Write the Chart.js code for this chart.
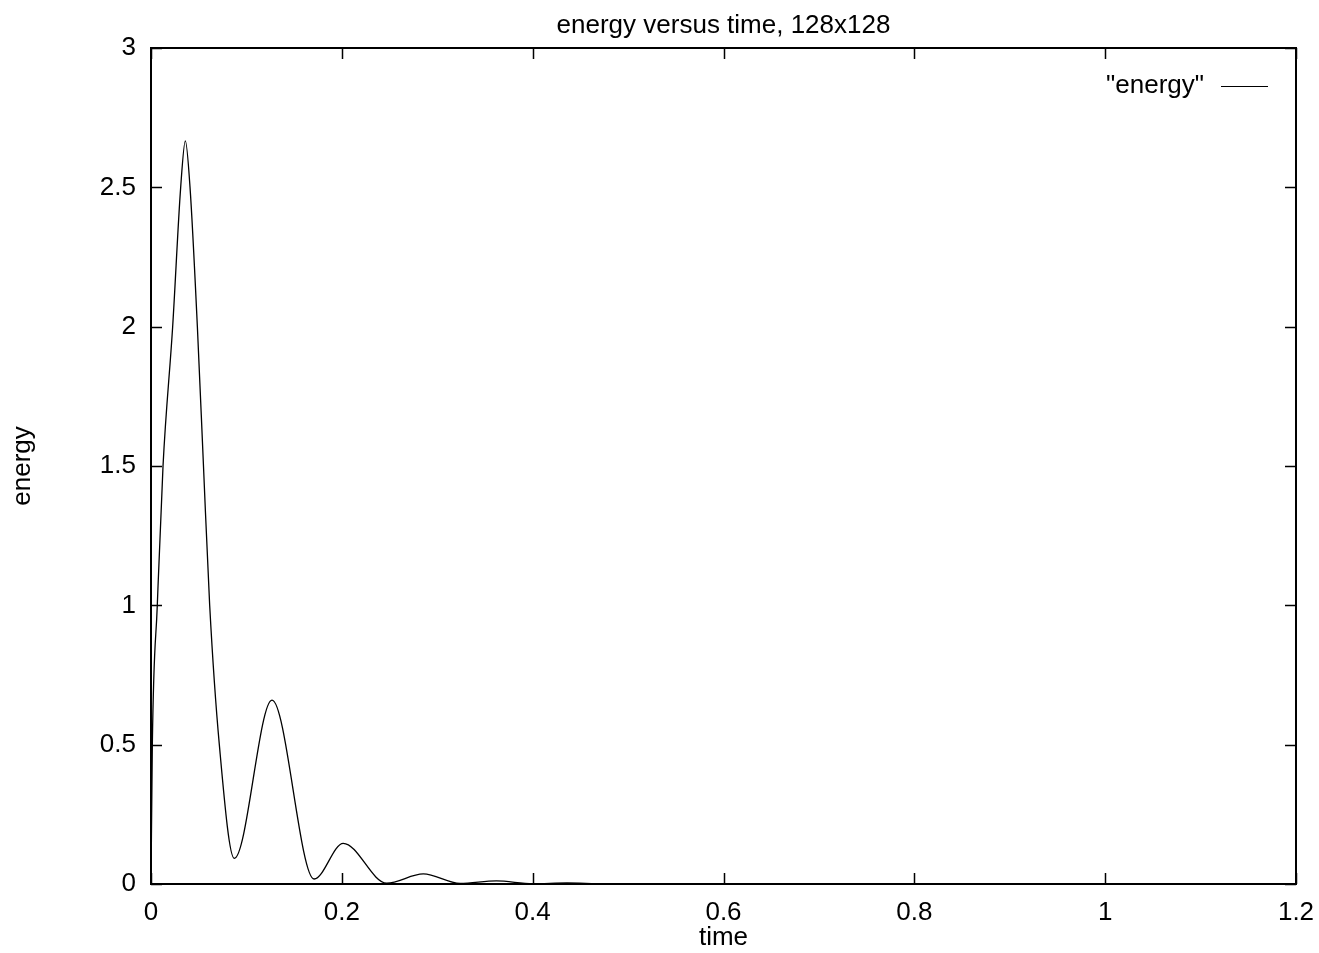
<!DOCTYPE html>
<html>
<head>
<meta charset="utf-8">
<script src="https://cdn.jsdelivr.net/npm/chart.js@4"></script>
<style>
  html, body { margin: 0; padding: 0; background: #fff; }
  #wrap { width: 1319px; height: 953px; position: relative; }
</style>
</head>
<body>
<div id="wrap"><canvas id="c" width="1319" height="953"></canvas></div>
<script>
// ---- data ----
const timeValues = [0, 0.0014, 0.0066, 0.0126, 0.0227, 0.0311, 0.036, 0.0409, 0.0486, 0.055, 0.0615, 0.0716, 0.0873, 0.1268, 0.171, 0.2015, 0.247, 0.2854, 0.324, 0.362, 0.40, 0.436, 0.475, 0.5];
const energyValues = [0, 0.5, 1.0, 1.5, 2.0, 2.5, 2.667, 2.5, 2.0, 1.5, 1.0, 0.5, 0.092, 0.66, 0.018, 0.146, 0.003, 0.036, 0.002, 0.011, 0.001, 0.004, 0.0005, 0.001];
const xTickValues = [0, 0.2, 0.4, 0.6, 0.8, 1, 1.2];
const yTickValues = [0, 0.5, 1, 1.5, 2, 2.5, 3];
const seriesLabel = '"energy"';
const chartTitle = 'energy versus time, 128x128';
const xTitle = 'time';
const yTitle = 'energy';

const FONT = '"Liberation Sans", Arial, Helvetica, sans-serif';
const FS = 26;

const points = timeValues.map((t, i) => ({ x: t, y: energyValues[i] }));

const gnuplotDecor = {
  id: 'gnuplotDecor',
  afterDatasetsDraw(chart) {
    const ctx = chart.ctx;
    const a = chart.chartArea;
    const xs = chart.scales.x, ys = chart.scales.y;
    ctx.save();
    ctx.strokeStyle = '#000';
    ctx.lineWidth = 1.5;
    const TL = 11;
    ctx.beginPath();
    xTickValues.forEach(v => {
      const px = Math.round(xs.getPixelForValue(v)) + 0.5;
      ctx.moveTo(px, a.bottom); ctx.lineTo(px, a.bottom - TL);
      ctx.moveTo(px, a.top); ctx.lineTo(px, a.top + TL);
    });
    yTickValues.forEach(v => {
      const py = Math.round(ys.getPixelForValue(v)) + 0.5;
      ctx.moveTo(a.left, py); ctx.lineTo(a.left + TL, py);
      ctx.moveTo(a.right, py); ctx.lineTo(a.right - TL, py);
    });
    ctx.stroke();
    ctx.lineWidth = 2;
    ctx.strokeRect(a.left, a.top, a.right - a.left, a.bottom - a.top);
    ctx.fillStyle = '#000';
    ctx.font = FS + 'px ' + FONT;
    ctx.textAlign = 'center';
    ctx.textBaseline = 'alphabetic';
    ctx.fillText(chartTitle, (a.left + a.right) / 2, 33);
    ctx.textAlign = 'right';
    ctx.fillText(seriesLabel, 1204, 93);
    ctx.lineWidth = 1.2;
    ctx.beginPath();
    ctx.moveTo(1221, 86.5); ctx.lineTo(1268, 86.5);
    ctx.stroke();
    ctx.restore();
  }
};

new Chart(document.getElementById('c'), {
  type: 'line',
  data: {
    datasets: [{
      label: seriesLabel,
      data: points,
      borderColor: '#000',
      borderWidth: 1.3,
      pointRadius: 0,
      fill: false,
      cubicInterpolationMode: 'monotone'
    }]
  },
  options: {
    responsive: false,
    animation: false,
    devicePixelRatio: 1,
    layout: { padding: { top: 48, right: 23, bottom: 0, left: 0 } },
    plugins: {
      legend: { display: false },
      title: { display: false },
      tooltip: { enabled: false }
    },
    scales: {
      x: {
        type: 'linear',
        min: 0, max: 1.2,
        grid: { display: false, drawTicks: false },
        border: { display: false },
        afterBuildTicks: s => { s.ticks = xTickValues.map(v => ({ value: v })); },
        afterFit: s => { s.height = 69; s.paddingLeft = 0; s.paddingRight = 0; },
        ticks: {
          color: '#000',
          font: { family: FONT, size: FS },
          padding: 13,
          maxRotation: 0,
          autoSkip: false,
          callback: v => String(v)
        },
        title: {
          display: true, text: xTitle, color: '#000',
          font: { family: FONT, size: FS },
          padding: { top: 0, bottom: 0 }
        }
      },
      y: {
        type: 'linear',
        min: 0, max: 3,
        grid: { display: false, drawTicks: false },
        border: { display: false },
        afterBuildTicks: s => { s.ticks = yTickValues.map(v => ({ value: v })); },
        afterFit: s => { s.width = 151; s.paddingTop = 0; s.paddingBottom = 0; },
        ticks: {
          color: '#000',
          font: { family: FONT, size: FS },
          padding: 15,
          autoSkip: false,
          callback: v => String(v)
        },
        title: {
          display: true, text: yTitle, color: '#000',
          font: { family: FONT, size: FS },
          padding: { top: 7, bottom: 0 }
        }
      }
    }
  },
  plugins: [gnuplotDecor]
});
</script>
</body>
</html>
